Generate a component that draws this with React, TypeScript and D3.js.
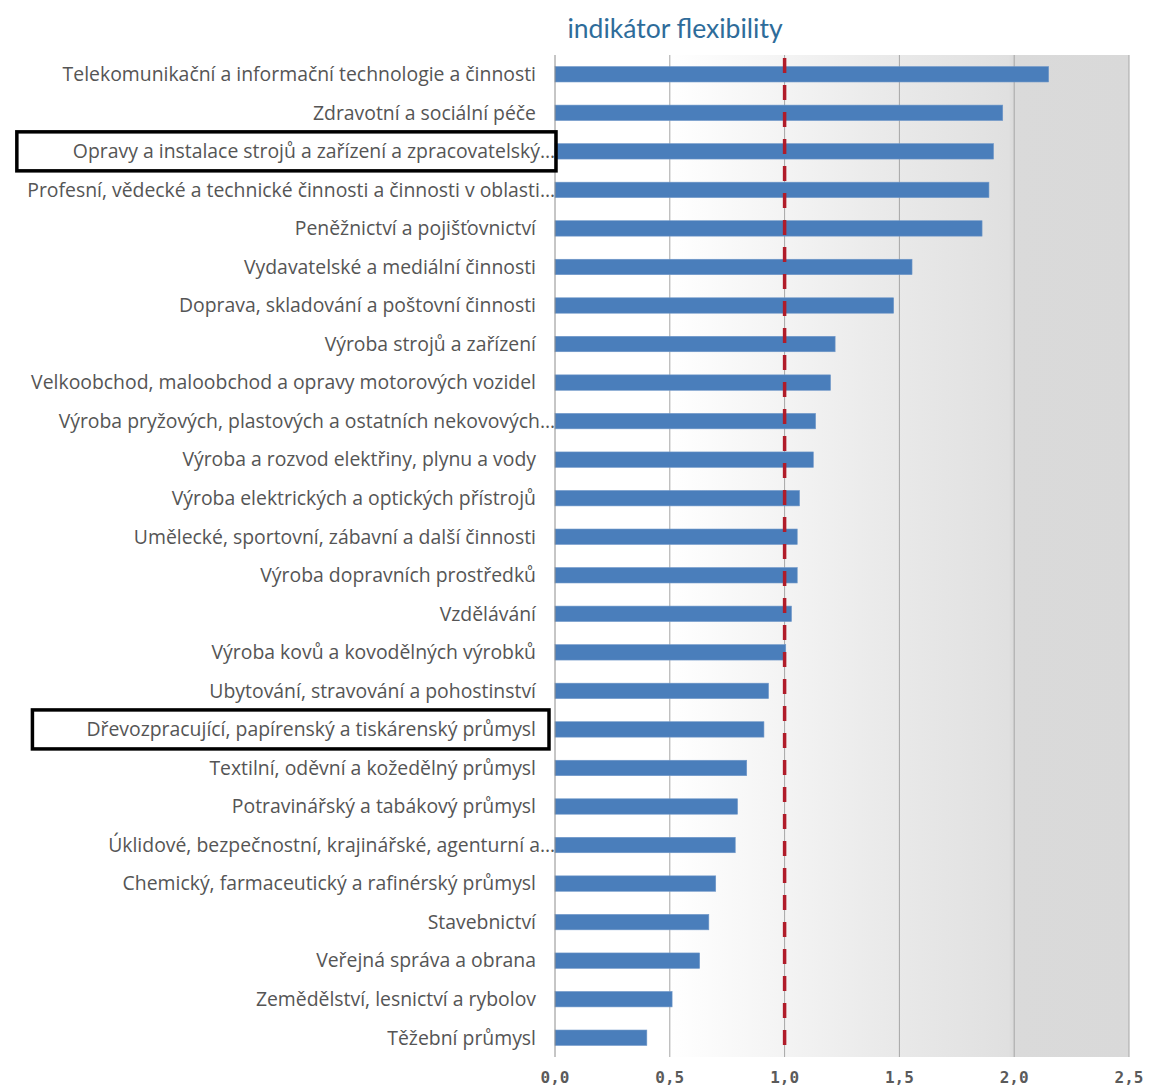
import { useRef, useEffect } from "react";
import * as d3 from "d3";

const categories = [
  "Telekomunikační a informační technologie a činnosti",
  "Zdravotní a sociální péče",
  "Opravy a instalace strojů a zařízení a zpracovatelský…",
  "Profesní, vědecké a technické činnosti a činnosti v oblasti…",
  "Peněžnictví a pojišťovnictví",
  "Vydavatelské a mediální činnosti",
  "Doprava, skladování a poštovní činnosti",
  "Výroba strojů a zařízení",
  "Velkoobchod, maloobchod a opravy motorových vozidel",
  "Výroba pryžových, plastových a ostatních nekovových…",
  "Výroba a rozvod elektřiny, plynu a vody",
  "Výroba elektrických a optických přístrojů",
  "Umělecké, sportovní, zábavní a další činnosti",
  "Výroba dopravních prostředků",
  "Vzdělávání",
  "Výroba kovů a kovodělných výrobků",
  "Ubytování, stravování a pohostinství",
  "Dřevozpracující, papírenský a tiskárenský průmysl",
  "Textilní, oděvní a kožedělný průmysl",
  "Potravinářský a tabákový průmysl",
  "Úklidové, bezpečnostní, krajinářské, agenturní a…",
  "Chemický, farmaceutický a rafinérský průmysl",
  "Stavebnictví",
  "Veřejná správa a obrana",
  "Zemědělství, lesnictví a rybolov",
  "Těžební průmysl",
];
const values = [2.15, 1.95, 1.91, 1.89, 1.86, 1.555, 1.475, 1.22, 1.2, 1.135, 1.125, 1.065, 1.055, 1.055, 1.03, 1.005, 0.93, 0.91, 0.835, 0.795, 0.785, 0.7, 0.67, 0.63, 0.51, 0.4];
const xTicks = [0, 0.5, 1, 1.5, 2, 2.5];
const referenceValue = 1.0;
const highlighted = [2, 17];
const title = "indikátor flexibility";

export default function App() {
  const ref = useRef<SVGSVGElement>(null);

  useEffect(() => {
    if (!ref.current) return;
    const svg = d3.select(ref.current); svg.selectAll("*").remove();
    const W = 1149, H = 1088;
    const left = 555, right = 1129, top = 55, bottom = 1057;
    svg.attr("width", W).attr("height", H);
    const x = d3.scaleLinear().domain([0, 2.5]).range([left, right]);
    const y = d3.scaleBand().domain(categories).range([top, bottom]).paddingInner(0.6).paddingOuter(0.3);

    const grad = svg.append("defs").append("linearGradient").attr("id", "bg").attr("x1", "0%").attr("x2", "100%");
    [{ o: "0%", c: "#ffffff" }, { o: "20%", c: "#ffffff" }, { o: "55%", c: "#ebebeb" }, { o: "79%", c: "#e0e0e0" }, { o: "80%", c: "#dadada" }, { o: "100%", c: "#d9d9d9" }]
      .forEach(s => grad.append("stop").attr("offset", s.o).attr("stop-color", s.c));
    svg.append("rect").attr("x", left).attr("y", top).attr("width", right - left).attr("height", bottom - top).attr("fill", "url(#bg)");

    svg.append("g").selectAll("line").data(xTicks.slice(1)).join("line")
      .attr("x1", d => x(d)).attr("x2", d => x(d)).attr("y1", top).attr("y2", bottom)
      .attr("stroke", "#a6a6a6").attr("stroke-width", 1);

    svg.append("g").selectAll("rect").data(values).join("rect")
      .attr("x", x(0)).attr("y", (_d, i) => y(categories[i])!)
      .attr("width", d => x(d) - x(0)).attr("height", y.bandwidth())
      .attr("fill", "#4a7ebb").attr("stroke", "#6f97c8").attr("stroke-width", 0.6);

    svg.append("line").attr("x1", x(0)).attr("x2", x(0)).attr("y1", top).attr("y2", bottom)
      .attr("stroke", "#8c8c8c").attr("stroke-width", 1);

    svg.append("line").attr("x1", x(referenceValue)).attr("x2", x(referenceValue)).attr("y1", top).attr("y2", bottom)
      .attr("stroke", "#b01c2a").attr("stroke-width", 3.5).attr("stroke-dasharray", "15,12").attr("stroke-dashoffset", -3);

    const fmt = (d: number) => d3.format(".1f")(d).replace(".", ",");
    svg.append("g").selectAll("text").data(xTicks).join("text")
      .attr("x", d => x(d)).attr("y", bottom + 26).attr("text-anchor", "middle")
      .attr("font-family", "DejaVu Sans Mono").attr("font-size", "16px").attr("font-weight", "bold").attr("fill", "#5a5a5a")
      .text(fmt);

    const labels = svg.append("g").selectAll("text").data(categories).join("text")
      .attr("x", d => d.endsWith("…") ? left : left - 19)
      .attr("y", d => y(d)! + y.bandwidth() / 2).attr("dy", "0.35em").attr("text-anchor", "end")
      .attr("font-family", "Open Sans").attr("font-size", "19.4px").attr("fill", "#555555")
      .text(d => d);

    labels.filter((_d, i) => highlighted.includes(i)).each(function (d) {
      const b = (this as SVGTextElement).getBBox();
      const cy = y(d)! + y.bandwidth() / 2;
      const padL = d.endsWith("…") ? 56 : 54;
      const padR = d.endsWith("…") ? 1 : 13;
      svg.append("rect").attr("x", b.x - padL).attr("y", cy - 19.5).attr("width", b.width + padL + padR).attr("height", 39)
        .attr("fill", "none").attr("stroke", "#000").attr("stroke-width", 3.5);
    });

    svg.append("text").attr("x", 675).attr("y", 38).attr("text-anchor", "middle")
      .attr("font-family", "Lato").attr("font-size", "26.5px").attr("fill", "#2e6c9a").text(title);
  }, []);

  return <svg ref={ref} style={{ position: "absolute", left: 0, top: 0, background: "#fff" }} />;
}
